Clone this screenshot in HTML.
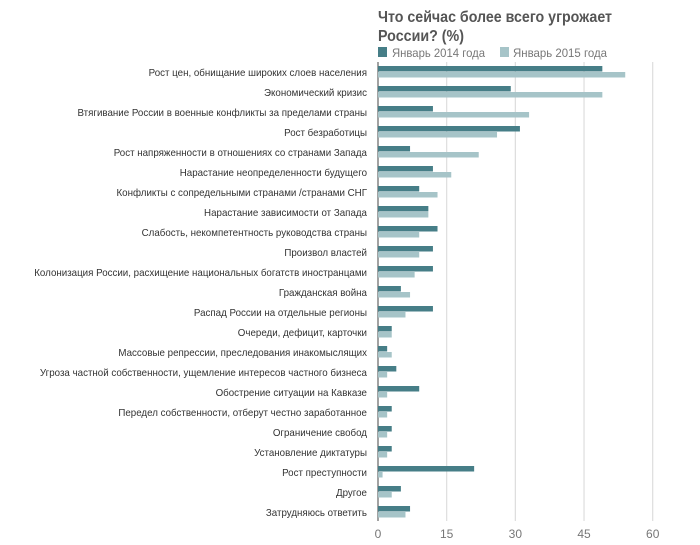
<!DOCTYPE html>
<html><head><meta charset="utf-8"><style>
body{margin:0;background:#fff;}
svg{display:block;font-family:"Liberation Sans",sans-serif;}
</style></head><body>
<svg id="chart" width="700" height="545">
<text x="378" y="22" font-size="16" font-weight="bold" fill="#555" textLength="234" lengthAdjust="spacingAndGlyphs">Что сейчас более всего угрожает</text>
<text x="378" y="41" font-size="16" font-weight="bold" fill="#555" textLength="86" lengthAdjust="spacingAndGlyphs">России? (%)</text>
<rect x="378" y="47" width="9" height="10" fill="#467e87"/>
<text x="392" y="57" font-size="12" fill="#777" textLength="93" lengthAdjust="spacingAndGlyphs">Январь 2014 года</text>
<rect x="500" y="47" width="9" height="10" fill="#a6c4c8"/>
<text x="513" y="57" font-size="12" fill="#777" textLength="94" lengthAdjust="spacingAndGlyphs">Январь 2015 года</text>
<g id="grid"></g><g id="bars"></g><g id="labels" transform="translate(367,0) scale(0.93,1) translate(-367,0)"></g><g id="ticks"></g>
</svg>
<script>
const categories=["Рост цен, обнищание широких слоев населения","Экономический кризис","Втягивание России в военные конфликты за пределами страны","Рост безработицы","Рост напряженности в отношениях со странами Запада","Нарастание неопределенности будущего","Конфликты с сопредельными странами /странами СНГ","Нарастание зависимости от Запада","Слабость, некомпетентность руководства страны","Произвол властей","Колонизация России, расхищение национальных богатств иностранцами","Гражданская война","Распад России на отдельные регионы","Очереди, дефицит, карточки","Массовые репрессии, преследования инакомыслящих","Угроза частной собственности, ущемление интересов частного бизнеса","Обострение ситуации на Кавказе","Передел собственности, отберут честно заработанное","Ограничение свобод","Установление диктатуры","Рост преступности","Другое","Затрудняюсь ответить"];
const values2014=[49,29,12,31,7,12,9,11,13,12,12,5,12,3,2,4,9,3,3,3,21,5,7];
const values2015=[54,49,33,26,22,16,13,11,9,9,8,7,6,3,3,2,2,2,2,2,1,3,6];
const tickValues=[0,15,30,45,60];
const NS="http://www.w3.org/2000/svg";
const x0=378,xMax=60,pxW=274.7,rowTop=66,rowH=20,barH=5.5;
function xs(v){return x0+v/xMax*pxW;}
function ys(i){return rowTop+i*rowH;}
function mk(tag,attrs,parent){const e=document.createElementNS(NS,tag);for(const k in attrs)e.setAttribute(k,attrs[k]);document.getElementById(parent).appendChild(e);return e;}
tickValues.forEach(t=>{
  const l=mk('line',{x1:xs(t),x2:xs(t),y1:62,y2:521,stroke:t===0?'#444':'#ddd','stroke-width':t===0?1:1.2},'grid');
  
  
  const tx=mk('text',{x:xs(t),y:538,'font-size':12,fill:'#777','text-anchor':'middle'},'ticks');
  tx.textContent=t;
  
  
});
categories.forEach((c,i)=>{
  const y=ys(i);
  const a=mk('rect',{x:x0,y:y,width:xs(values2014[i])-x0,height:barH,fill:'#467e87'},'bars');
  
  
  const b=mk('rect',{x:x0,y:y+barH+0.5,width:xs(values2015[i])-x0,height:barH,fill:'#a6c4c8'},'bars');
  
  
  const t=mk('text',{x:367,y:y+10,'font-size':10.5,fill:'#333','text-anchor':'end'},'labels');
  t.textContent=c;
  
  
});
</script>
</body></html>
